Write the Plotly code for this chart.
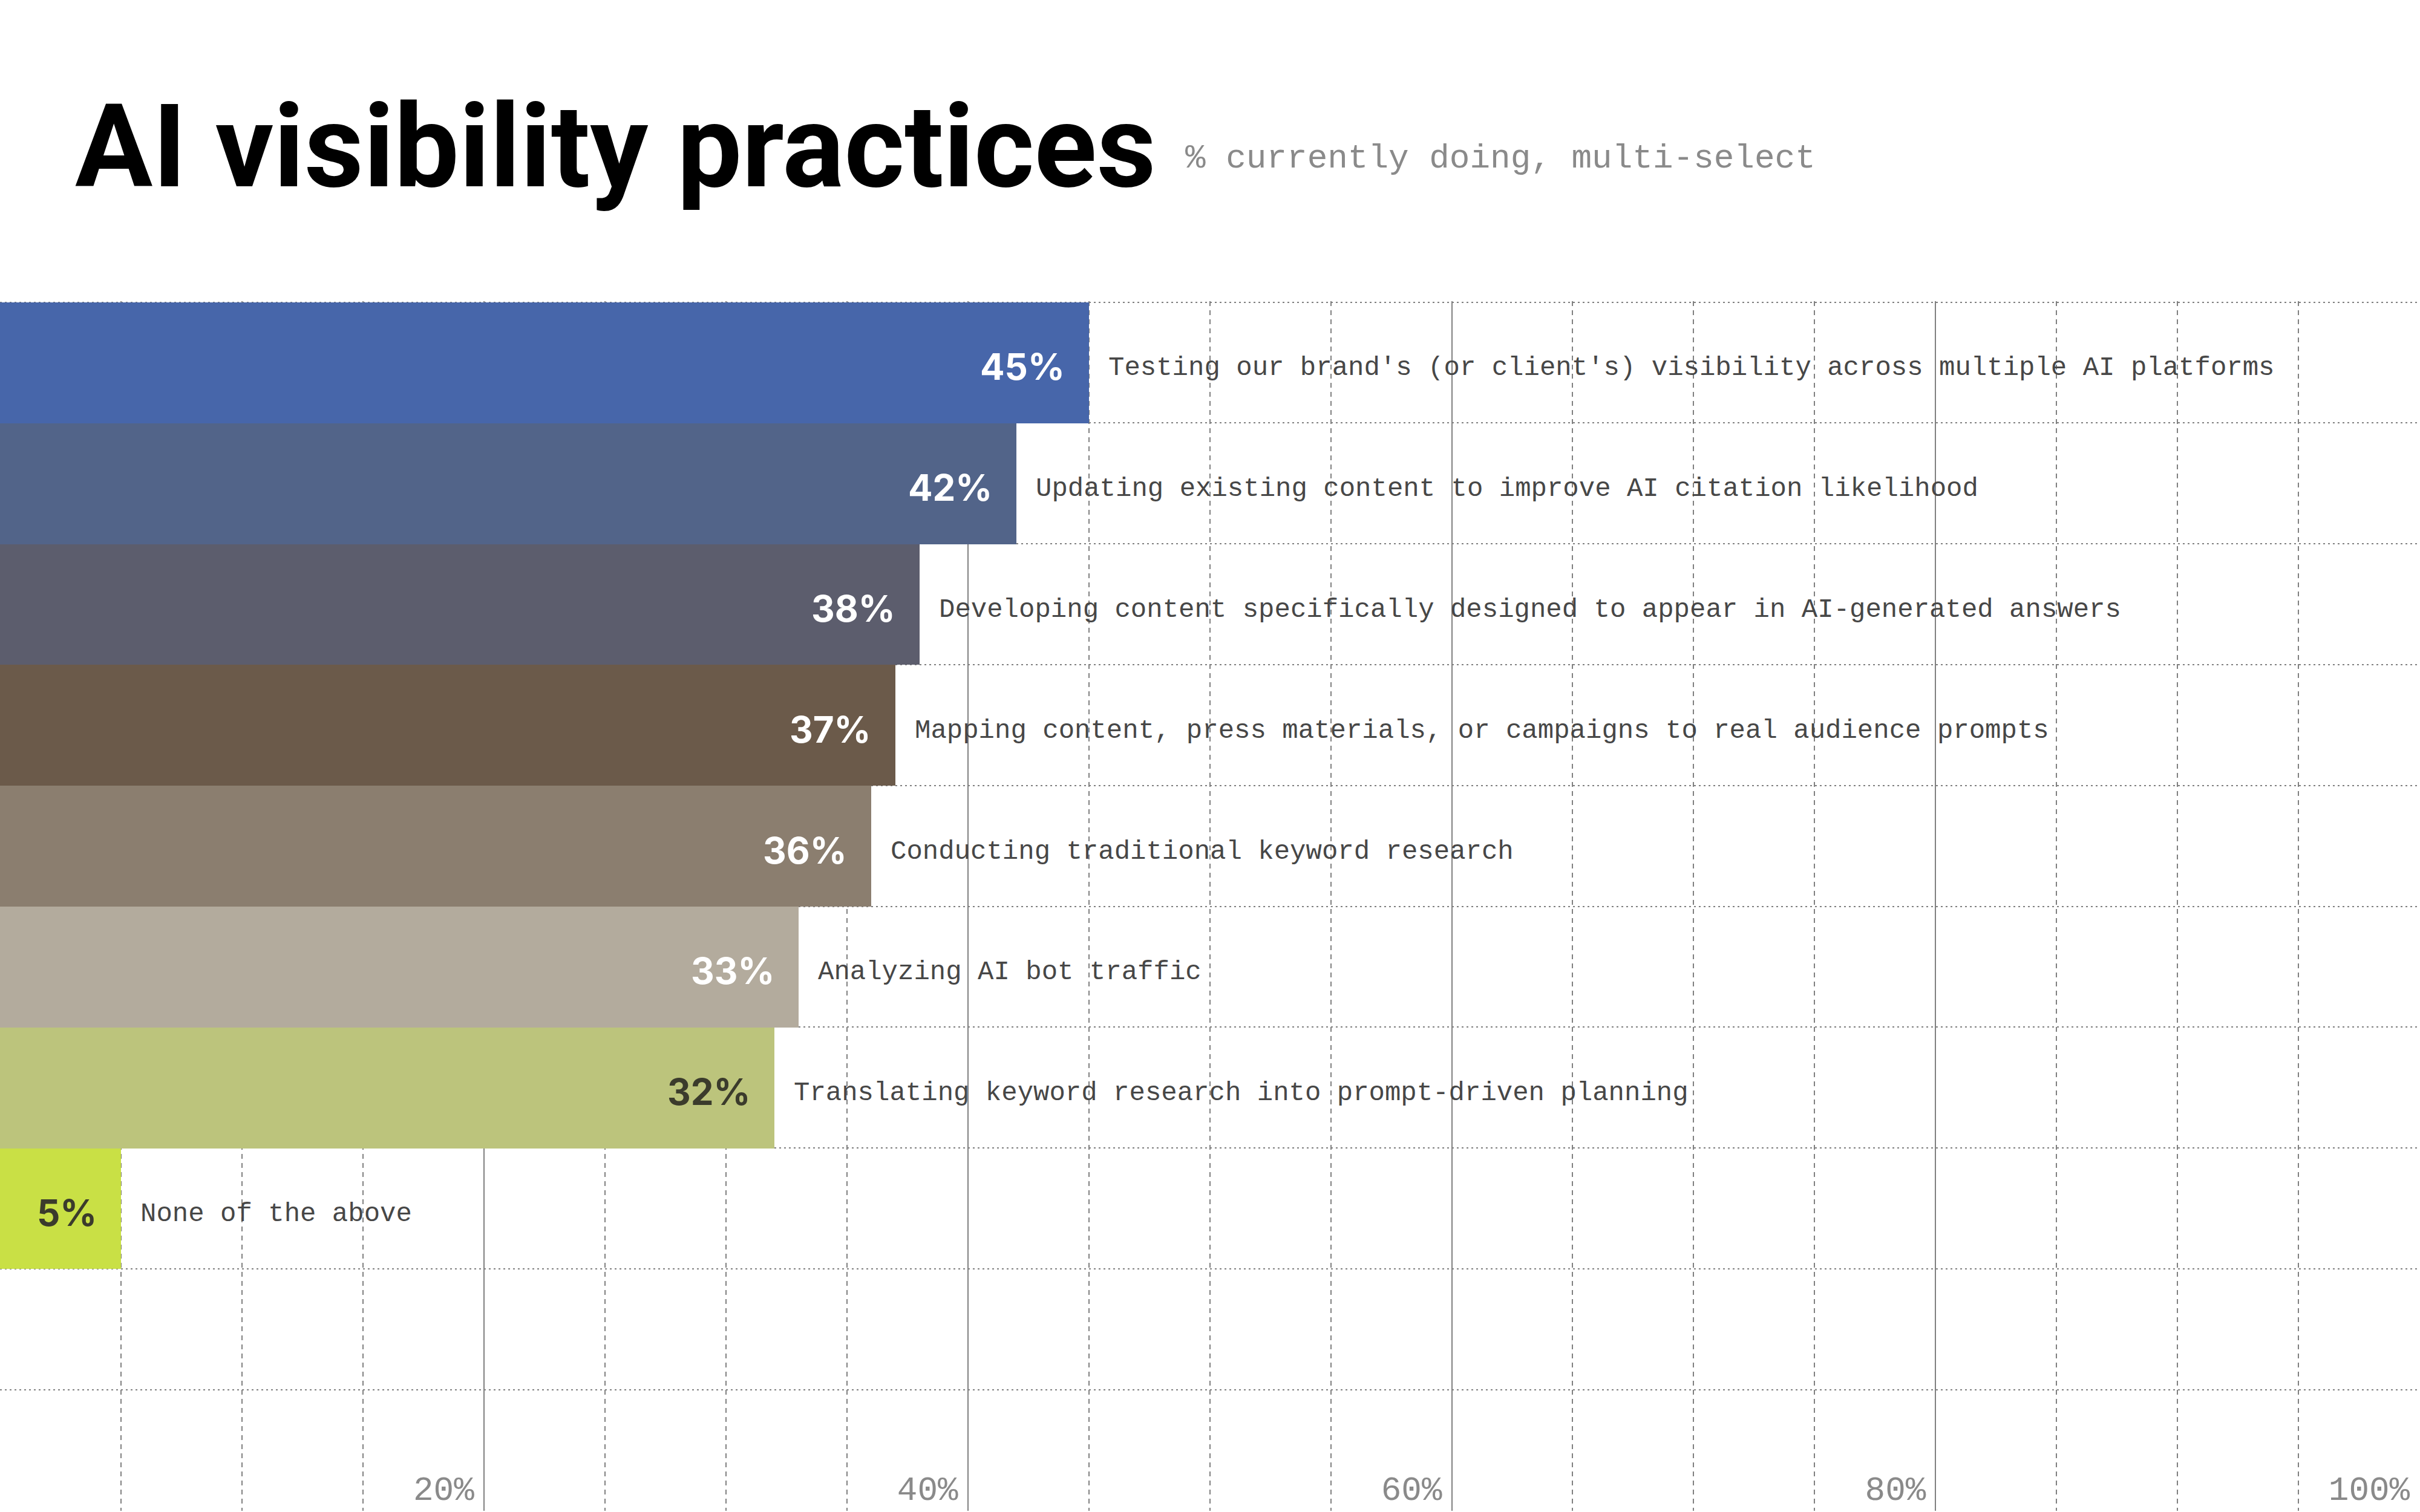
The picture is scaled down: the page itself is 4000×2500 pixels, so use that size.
import plotly.graph_objects as go

# ---- data ----
categories = [
    "Testing our brand's (or client's) visibility across multiple AI platforms",
    "Updating existing content to improve AI citation likelihood",
    "Developing content specifically designed to appear in AI-generated answers",
    "Mapping content, press materials, or campaigns to real audience prompts",
    "Conducting traditional keyword research",
    "Analyzing AI bot traffic",
    "Translating keyword research into prompt-driven planning",
    "None of the above",
]
values = [45, 42, 38, 37, 36, 33, 32, 5]
bar_colors = ["#4766aa", "#526489", "#5c5d6d", "#6b5a4a", "#8b7e6f", "#b3ab9d", "#bcc47c", "#c9e045"]
value_text_colors = ["#ffffff", "#ffffff", "#ffffff", "#ffffff", "#ffffff", "#ffffff", "#3b3b2c", "#3b3b2c"]
x_tick_values = [20, 40, 60, 80, 100]
x_tick_labels = ["20%", "40%", "60%", "80%", "100%"]
n_rows = 10
title_text = "AI visibility practices"
subtitle_text = "% currently doing, multi-select"

W, H = 4000, 2500
MONO = "Liberation Mono, DejaVu Sans Mono, monospace"
SANS = "Inter, Roboto, Arial, sans-serif"
TITLE_FONT = "Roboto, Inter, Arial, sans-serif"
GRID = "#808080"

ypos = list(range(len(categories)))

fig = go.Figure()
fig.add_trace(go.Bar(
    x=values, y=ypos, orientation="h",
    marker=dict(color=bar_colors, line=dict(width=0)),
    width=1.0, hoverinfo="skip", showlegend=False,
))

annotations = []
for i, (v, cat) in enumerate(zip(values, categories)):
    annotations.append(dict(
        x=v, y=i, xref="x", yref="y", text=f"<b>{v}%</b>", showarrow=False,
        xanchor="right", yanchor="middle", xshift=-38, yshift=-7,
        font=dict(family=SANS, size=60, color=value_text_colors[i]),
    ))
    annotations.append(dict(
        x=v, y=i, xref="x", yref="y", text=cat, showarrow=False,
        xanchor="left", yanchor="middle", xshift=30, yshift=-9,
        font=dict(family=MONO, size=44, color="#474747"),
    ))

annotations.append(dict(
    x=122 / W, y=1 - 243 / H, xref="paper", yref="paper", text=f"<b>{title_text}</b>",
    showarrow=False, xanchor="left", yanchor="middle",
    font=dict(family=TITLE_FONT, size=191, color="#000000"),
))
annotations.append(dict(
    x=1957 / W, y=1 - 262 / H, xref="paper", yref="paper", text=subtitle_text,
    showarrow=False, xanchor="left", yanchor="middle",
    font=dict(family=MONO, size=56, color="#8a8a8a"),
))

fig.update_layout(
    width=W, height=H, autosize=False,
    margin=dict(l=0, r=0, t=0, b=0, pad=0),
    paper_bgcolor="#ffffff", plot_bgcolor="#ffffff",
    bargap=0,
    annotations=annotations,
    xaxis=dict(
        range=[0, 100.02], domain=[0, 1],
        tickmode="array", tickvals=x_tick_values, ticktext=x_tick_labels,
        ticks="", ticklabelposition="inside left", ticklabelshift=-16,
        tickfont=dict(family=MONO, size=56, color="#8a8a8a"),
        showgrid=True, gridcolor=GRID, gridwidth=2,
        zeroline=False, showline=False,
        minor=dict(tickmode="linear", tick0=0, dtick=5, showgrid=True,
                   gridcolor=GRID, gridwidth=2, griddash="8px,7px", ticks=""),
        fixedrange=True,
    ),
    yaxis=dict(
        range=[n_rows - 0.5, -0.51], domain=[0.001, 0.801],
        tickmode="array", tickvals=[k - 0.5 for k in range(n_rows + 1)],
        showticklabels=False, ticks="",
        showgrid=True, gridcolor=GRID, gridwidth=2, griddash="3px,5px",
        zeroline=False, showline=False, fixedrange=True,
    ),
)

fig.write_html("out.html")
